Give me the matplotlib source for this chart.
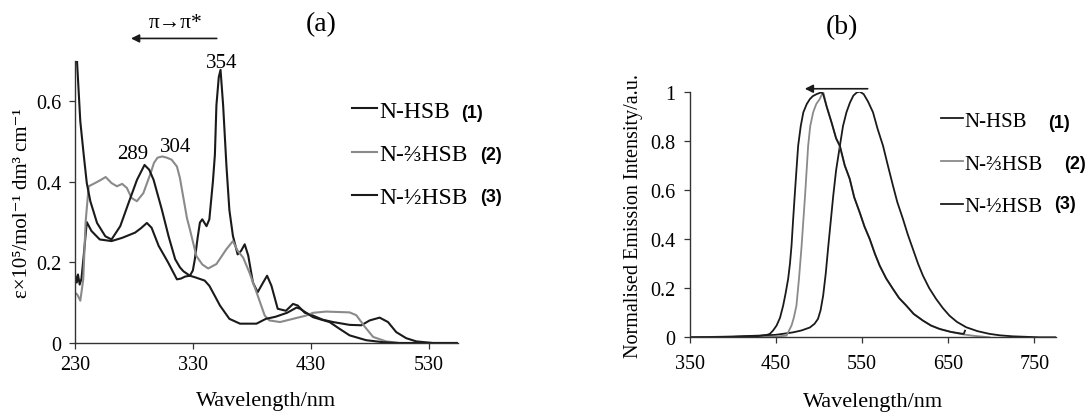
import matplotlib
matplotlib.use("Agg")
import matplotlib.pyplot as plt
from matplotlib.ticker import FuncFormatter

plt.rcParams['font.family'] = ['Liberation Serif', 'DejaVu Serif']

## absorption spectra (a), wavelength in nm, epsilon x 1e5
abs_hsb_x = [230, 231.5, 232.5, 234, 235.5, 237.5, 240, 244, 251, 256, 261, 270, 281, 286, 291, 295,
             301, 309, 316.5, 320, 323.5, 327.5, 330, 331.7, 334, 336, 338, 341.6, 344, 347, 348.7,
             350, 352, 353.5, 355.7, 358.5, 361, 364, 368, 371, 374, 377, 381, 385, 389.6, 393,
             396.7, 402, 409, 415, 419, 425, 432, 440, 449, 463, 473, 480, 488.5, 495.6, 502.6,
             511, 519.6, 533.7, 554]
abs_hsb_y = [0.17, 0.15, 0.17, 0.145, 0.16, 0.22, 0.30, 0.278, 0.257, 0.255, 0.253, 0.261, 0.274, 0.285,
             0.298, 0.286, 0.241, 0.2, 0.158, 0.16, 0.165, 0.167, 0.18, 0.208, 0.26, 0.299, 0.307, 0.29,
             0.307, 0.4, 0.467, 0.59, 0.66, 0.678, 0.59, 0.44, 0.33, 0.266, 0.22, 0.229, 0.245, 0.217,
             0.15, 0.126, 0.15, 0.167, 0.142, 0.085, 0.08, 0.097, 0.093, 0.075, 0.068, 0.058, 0.052,
             0.045, 0.044, 0.056, 0.063, 0.052, 0.027, 0.012, 0.004, 0.0, 0.0]

abs_23_x = [230, 232, 234.5, 237, 239, 241.6, 247, 252, 256, 261, 265.6, 270, 274, 278, 282.5, 288,
            294, 297, 300, 304, 308, 312, 316.5, 319, 322, 325, 327.5, 333, 338, 343, 350, 358.5,
            364, 368, 372.7, 378, 385, 391, 395, 404, 415, 426, 432, 443, 463, 468.7, 476, 483,
            494, 505, 554]
abs_23_y = [0.125, 0.12, 0.105, 0.158, 0.3, 0.389, 0.397, 0.405, 0.412, 0.397, 0.389, 0.395, 0.385,
            0.36, 0.352, 0.372, 0.42, 0.447, 0.46, 0.463, 0.46, 0.455, 0.438, 0.41, 0.36, 0.31, 0.282,
            0.216, 0.195, 0.185, 0.196, 0.233, 0.253, 0.229, 0.212, 0.175, 0.118, 0.068, 0.056, 0.052,
            0.06, 0.068, 0.075, 0.078, 0.076, 0.069, 0.04, 0.015, 0.004, 0.0, 0.0]

abs_12_x = [230, 231.7, 234.5, 237.4, 240, 243, 248.7, 255.7, 261, 268.4, 275.5, 282.6, 289, 293,
            296.7, 300, 303.7, 309.4, 315, 319, 322, 327.5, 332, 336, 340, 344, 349, 353, 361, 370,
            384, 392, 400, 410, 418, 421, 432, 446, 454.6, 463, 477, 491.3, 505, 554]
abs_12_y = [0.9, 0.70, 0.55, 0.467, 0.397, 0.352, 0.298, 0.265, 0.257, 0.29, 0.348, 0.405, 0.442,
            0.43, 0.405, 0.37, 0.331, 0.265, 0.208, 0.188, 0.178, 0.167, 0.163, 0.159, 0.155, 0.142,
            0.115, 0.093, 0.06, 0.048, 0.048, 0.06, 0.065, 0.075, 0.088, 0.085, 0.064, 0.052, 0.035,
            0.019, 0.007, 0.002, 0.0, 0.0]

## emission spectra (b), normalised
em_hsb_x = [350, 400, 431.6, 450, 470, 480, 489.6, 495, 499, 502, 505, 508, 511, 516.7, 520, 524.4,
            528, 532, 536, 540, 544, 547.5, 552, 557, 562.8, 568, 574.4, 580, 585.9, 591, 597.5, 603,
            609, 615, 620.7, 628, 636, 644, 651.5, 660, 670.8, 684, 697.8, 710, 724.8, 740, 755.7, 775]
em_hsb_y = [0.0, 0.003, 0.007, 0.01, 0.02, 0.028, 0.04, 0.055, 0.075, 0.11, 0.17, 0.26, 0.373, 0.577,
            0.68, 0.78, 0.86, 0.916, 0.955, 0.984, 0.997, 1.0, 0.99, 0.96, 0.916, 0.85, 0.78, 0.70,
            0.618, 0.55, 0.482, 0.42, 0.36, 0.30, 0.251, 0.20, 0.156, 0.118, 0.088, 0.063, 0.041,
            0.025, 0.014, 0.008, 0.004, 0.002, 0.0, 0.0]

em_23_x = [350, 420, 450, 462.5, 468.3, 471, 474, 477, 480, 484, 487.6, 490, 493.4, 497, 501, 503,
           505, 509, 514.7, 520, 524.4, 530, 535.8, 541, 547.3, 553, 559, 565, 570.5, 578, 585.9,
           593, 601.4, 610, 620.7, 630, 640, 653, 667, 680, 697.8]
em_23_y = [0.0, 0.0, 0.003, 0.007, 0.048, 0.08, 0.129, 0.24, 0.373, 0.577, 0.78, 0.86, 0.916, 0.95,
           0.97, 0.985, 1.0, 0.94, 0.875, 0.81, 0.775, 0.70, 0.645, 0.57, 0.509, 0.45, 0.4, 0.34,
           0.292, 0.24, 0.197, 0.16, 0.129, 0.095, 0.068, 0.048, 0.034, 0.022, 0.012, 0.006, 0.0]

em_12_x = [350, 400, 430, 440, 443.2, 447, 451, 455, 458.6, 461.5, 464.4, 466.5, 468.3, 470, 472, 474,
           476, 479, 482, 486, 489.6, 493, 497.3, 501, 503, 505, 509, 514.7, 520, 524.4, 530, 535.8,
           541, 547.3, 553, 559, 565, 570.5, 578, 585.9, 593, 601.4, 610, 620.7, 630, 640, 653, 665,
           668, 669.5]
em_12_y = [0.0, 0.002, 0.005, 0.01, 0.014, 0.028, 0.048, 0.08, 0.129, 0.18, 0.238, 0.30, 0.373, 0.47,
           0.577, 0.68, 0.78, 0.86, 0.916, 0.95, 0.97, 0.982, 0.99, 0.995, 0.998, 0.99, 0.94, 0.875,
           0.81, 0.78, 0.70, 0.645, 0.57, 0.509, 0.45, 0.40, 0.34, 0.292, 0.24, 0.197, 0.16, 0.129,
           0.095, 0.068, 0.048, 0.034, 0.022, 0.015, 0.014, 0.027]

names = ['N-HSB', 'N-⅔HSB', 'N-½HSB']
numbers = ['(1)', '(2)', '(3)']
colors = ['#1a1a1a', '#8a8a8a', '#1a1a1a']

abs_xticks = [230, 330, 430, 530]
abs_yticks = [0, 0.2, 0.4, 0.6]
em_xticks = [350, 450, 550, 650, 750]
em_yticks = [0, 0.2, 0.4, 0.6, 0.8, 1]

W, H = 1090, 414
fig = plt.figure(figsize=(W / 100, H / 100), dpi=100)
ax1 = fig.add_axes([75 / W, 1 - 344 / H, 383 / W, 282 / H])
ax2 = fig.add_axes([689.5 / W, 1 - 338.3 / H, 366.5 / W, 245.6 / H])

fmt = FuncFormatter(lambda v, p: '{:g}'.format(round(v, 2)))

def style(ax):
    for s in ['top', 'right']:
        ax.spines[s].set_visible(False)
    for s in ['left', 'bottom']:
        ax.spines[s].set_linewidth(1.0)
        ax.spines[s].set_color('#333333')
    ax.tick_params(direction='out', length=4, width=0.9, labelsize=14.5, color='#333333')
    ax.tick_params(axis='y', pad=6)
    ax.tick_params(axis='x', pad=5)
    ax.yaxis.set_major_formatter(fmt)

## panel (a)
for xs, ys, c in zip([abs_hsb_x, abs_23_x, abs_12_x], [abs_hsb_y, abs_23_y, abs_12_y], colors):
    ax1.plot(xs, ys, color=c, lw=1.5)
ax1.set_xlim(230, 555)
ax1.set_ylim(0, 0.7)
ax1.set_xticks(abs_xticks)
ax1.set_yticks(abs_yticks)
style(ax1)
ax1.set_xlabel('Wavelength/nm', fontsize=16, labelpad=12)
ax1.set_ylabel('ε×10⁵/mol⁻¹ dm³ cm⁻¹', fontsize=15, labelpad=3)

ax1.text(354.6, 0.697, '354', fontsize=15, ha='center', va='center')
ax1.text(279, 0.47, '289', fontsize=15, ha='center', va='center')
ax1.text(315.6, 0.487, '304', fontsize=15, ha='center', va='center')
ax1.annotate('', xy=(277.5, 0.756), xytext=(350.3, 0.756), annotation_clip=False,
             arrowprops=dict(arrowstyle='-|>', color='#1a1a1a', lw=1.2, mutation_scale=12, shrinkA=0, shrinkB=0))
ax1.text(315.6, 0.795, 'π→π*', fontsize=15.5, ha='center', va='center', clip_on=False)

leg1 = ax1.legend(names, loc='upper left', bbox_to_anchor=(352 / W, 1 - 101 / H),
                  bbox_transform=fig.transFigure, frameon=False, fontsize=17,
                  handlelength=1.05, handletextpad=0.1, labelspacing=0.92, borderpad=0, borderaxespad=0)

## panel (b)
for xs, ys, c in zip([em_hsb_x, em_23_x, em_12_x], [em_hsb_y, em_23_y, em_12_y], colors):
    ax2.plot(xs, ys, color=c, lw=1.3)
ax2.set_xlim(350, 775)
ax2.set_ylim(0, 1)
ax2.set_xticks(em_xticks)
ax2.set_yticks(em_yticks)
style(ax2)
ax2.tick_params(axis='x', pad=8)
ax2.set_xlabel('Wavelength/nm', fontsize=16, labelpad=14)
ax2.set_ylabel('Normalised Emission Intensity/a.u.', fontsize=14.5, labelpad=5)
ax2.annotate('', xy=(483.7, 1.012), xytext=(556.6, 1.012), annotation_clip=False,
             arrowprops=dict(arrowstyle='-|>', color='#1a1a1a', lw=1.2, mutation_scale=12, shrinkA=0, shrinkB=0))

leg2 = ax2.legend(names, loc='upper left', bbox_to_anchor=(941 / W, 1 - 112 / H),
                  bbox_transform=fig.transFigure, frameon=False, fontsize=15,
                  handlelength=1.05, handletextpad=0.05, labelspacing=1.12, borderpad=0, borderaxespad=0)

## bold compound numbers next to the legends
num_a = [(472, 113), (491, 155), (491, 198)]
num_b = [(1059, 123), (1075, 165), (1065, 205)]
for t, (xa, ya), (xb, yb) in zip(numbers, num_a, num_b):
    fig.text(xa / W, 1 - ya / H, t, family='Liberation Sans', weight='bold', fontsize=13, ha='center', va='center')
    fig.text(xb / W, 1 - yb / H, t, family='Liberation Sans', weight='bold', fontsize=13, ha='center', va='center')

fig.text(321 / W, 1 - 25 / H, '(a)', fontsize=20, ha='center', va='center')
fig.text(842 / W, 1 - 28 / H, '(b)', fontsize=20, ha='center', va='center')

fig.savefig('out.png', dpi=100)
